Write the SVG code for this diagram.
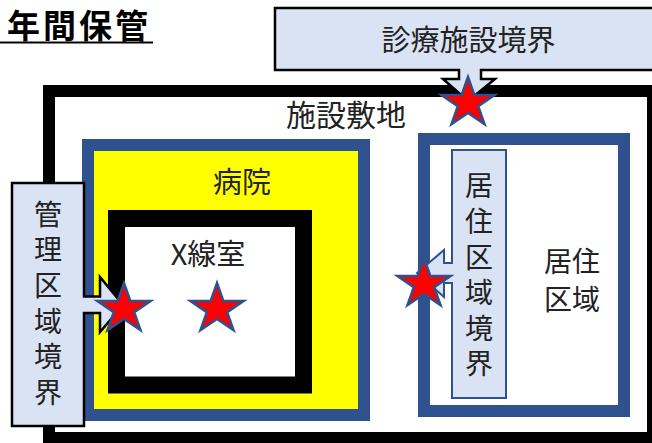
<svg xmlns="http://www.w3.org/2000/svg" width="652" height="443" viewBox="0 0 652 443">
<style>
.t{font-family:"Noto Sans CJK JP","Noto Sans",sans-serif;fill:#222;font-size:28px;text-anchor:middle}
.v{writing-mode:vertical-rl;letter-spacing:7.6px}
.call{fill:#DAE3F3;stroke:#000;stroke-width:2.5;stroke-linejoin:miter}
.callb{fill:#DAE3F3;stroke:#2F528F;stroke-width:2;stroke-linejoin:miter}
.star{fill:#FF0000;stroke:#2F528F;stroke-width:2.5;stroke-linejoin:miter}
</style>
<defs>
<path id="star" d="M0,-26 L6.3,-8 L26.6,-8 L10.2,3.1 L16.5,21 L0,9.9 L-16.5,21 L-10.2,3.1 L-26.6,-8 L-6.3,-8 Z"/>
</defs>
<rect width="652" height="443" fill="#fff"/>
<g id="title">
<text x="7" y="38" style="font-family:'Noto Sans CJK JP',sans-serif;font-weight:bold;font-size:33px;letter-spacing:3px;fill:#000">年間保管</text>
<line x1="0" y1="42.5" x2="153" y2="42.5" stroke="#000" stroke-width="2"/>
</g>
<g id="site">
<rect x="49" y="91" width="604" height="347" fill="#fff" stroke="#000" stroke-width="12"/>
<text class="t" x="346" y="126" style="font-size:30px">施設敷地</text>
</g>
<g id="hospital">
<rect x="88" y="145" width="276" height="270" fill="#FFFF00" stroke="#2F528F" stroke-width="12"/>
<text class="t" x="242" y="193" style="font-size:29px">病院</text>
</g>
<g id="xray">
<rect x="116.5" y="218.5" width="187" height="166.5" fill="#fff" stroke="#000" stroke-width="17"/>
<text class="t" x="208" y="265" style="font-size:29px">X線室</text>
</g>
<g id="residential">
<rect x="424" y="139" width="200" height="272" fill="#fff" stroke="#2F528F" stroke-width="12"/>
<text class="t" x="572" y="272">居住</text>
<text class="t" x="572" y="310">区域</text>
</g>
<g id="connectors">
<path class="call" d="M275,8 H662 V70 H481 V79 H495 L468,101 L443,79 H459 V70 H275 Z"/>
<path class="call" d="M12,183 H84 V296.5 H100 V277 L123,305 L100,332 V313 H84 V426 H12 Z"/>
<path class="callb" d="M452,150 H506 V398 H452 V283 H444 V297 L417,273 L444,250 V263 H452 Z"/>
</g>
<g id="label-facility-boundary">
<text class="t" x="468.5" y="51" style="font-size:29px">診療施設境界</text>
</g>
<g id="label-controlled-boundary">
<text class="t v" x="48" y="307">管理区域境界</text>
</g>
<g id="label-residential-boundary">
<text class="t v" x="479" y="278.5">居住区域境界</text>
</g>
<g id="stars">
<use href="#star" class="star" x="468" y="103"/>
<use href="#star" class="star" x="124" y="309"/>
<use href="#star" class="star" x="217" y="309"/>
<use href="#star" class="star" x="424" y="284"/>
</g>
</svg>
